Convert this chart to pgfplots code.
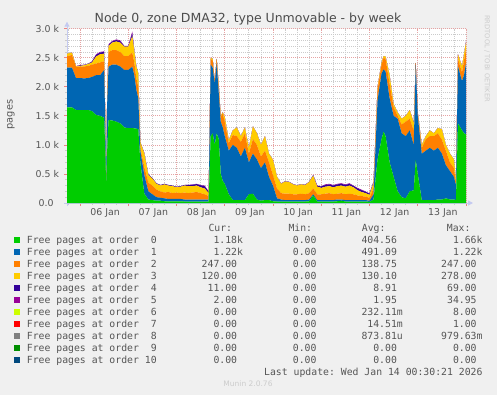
\documentclass[border=0pt]{standalone}
\usepackage{fontspec}
\setmainfont{DejaVu Sans}
\setmonofont{DejaVu Sans Mono}
\usepackage{pgfplots}
\pgfplotsset{compat=1.18}
\usepackage{pgfplotstable}
\usetikzlibrary{arrows.meta}
\definecolor{c0}{HTML}{00CC00}
\definecolor{c1}{HTML}{0066B3}
\definecolor{c2}{HTML}{FF8000}
\definecolor{c3}{HTML}{FFCC00}
\definecolor{c4}{HTML}{330099}
\definecolor{c5}{HTML}{990099}
\definecolor{c6}{HTML}{CCFF00}
\definecolor{c7}{HTML}{FF0000}
\definecolor{c8}{HTML}{808080}
\definecolor{c9}{HTML}{008F00}
\definecolor{c10}{HTML}{00487D}
\definecolor{bg}{HTML}{F0F0F0}
\definecolor{axc}{HTML}{C4CAF0}
\definecolor{mgrid}{HTML}{E6A3A3}
\definecolor{ngrid}{HTML}{CBCBCB}
\definecolor{txt}{HTML}{555555}

\pgfplotstableread{
h o0 o1 o2 o3 o4 o5
-6.47 1646 683 201 40 0 0
-4 1646 683 218 43 0 0
-2 1600 550 196 9 0 0
0 1600 550 196 14 10 5
2 1600 545 205 20 7 3
4 1600 550 210 30 5 0
6 1580 590 210 40 15 5
8 1514 686 200 120 30 10
10 1500 700 220 140 30 10
12 1468 822 150 130 30 10
12.5 1000 500 50 50 0 0
13 280 40 10 10 0 0
13.5 900 800 100 50 0 0
14.2 1428 918 254 100 20 10
16 1420 960 250 130 20 10
18 1400 980 250 150 25 10
20 1370 980 250 160 25 15
22 1300 990 240 160 10 5
24 1290 1000 240 160 10 5
26 1290 1056 244 280 50 30
27 1285 915 220 200 15 5
28 1280 670 200 200 10 0
29 1270 530 200 230 0 0
30 700 200 50 100 0 0
32 160 320 140 230 10 0
34 60 140 150 130 10 0
36 50 100 150 120 10 0
38 40 60 130 100 10 0
40 40 50 110 100 10 0
42 30 50 100 140 10 0
44 30 40 120 110 10 0
46 30 40 100 120 10 0
48 30 40 110 90 10 0
50 30 40 100 110 10 0
52 25 35 120 120 10 0
54 25 35 110 120 20 0
56 25 35 120 110 25 5
58 25 35 130 110 25 5
60 25 35 110 100 35 5
62 25 35 90 100 40 10
64 25 35 60 50 25 5
65 1150 1230 100 20 0 0
66 1200 1130 120 30 0 0
67 1000 1050 50 0 0 0
68 1200 1200 70 10 0 0
69 1100 800 100 50 0 0
70 500 900 80 20 0 0
71 380 920 240 20 0 0
72 330 820 250 80 0 0
74 150 750 130 50 0 0
76 50 950 170 80 0 0
78 50 900 200 150 0 0
80 50 750 250 100 0 0
82 50 900 250 100 0 0
84 150 550 150 100 0 0
86 160 690 250 220 0 0
88 60 690 250 200 0 0
90 40 560 200 200 0 0
92 50 650 200 250 0 0
94 50 400 250 150 0 0
96 30 270 180 260 0 0
98 25 55 170 200 0 0
100 25 35 110 160 5 0
102 25 25 110 210 5 0
104 25 25 110 200 5 0
106 25 25 100 170 5 0
108 25 25 100 150 5 0
110 25 25 110 160 5 0
112 25 25 100 160 5 0
114 30 30 110 190 5 0
116 130 20 100 220 10 0
118 25 25 100 130 15 5
120 25 25 100 110 25 5
122 25 25 110 120 30 10
124 25 25 120 120 30 10
126 25 25 100 120 30 10
128 30 30 100 130 30 10
130 40 20 110 130 30 10
132 25 25 100 130 30 10
134 25 25 110 140 30 10
136 25 25 100 120 25 5
138 25 25 80 90 30 10
140 25 25 70 70 30 10
142 25 25 60 60 25 5
144 20 20 50 50 20 5
146 60 90 110 90 15 5
148 750 1020 180 50 0 0
150 1100 1130 150 40 0 0
151 1227 1073 200 30 0 0
152 1150 1110 220 40 0 0
154 700 1100 250 150 0 0
156 450 1050 150 50 0 0
158 200 1250 50 60 0 0
160 100 1100 150 100 0 0
162 80 1070 250 100 0 0
164 200 1050 200 150 0 0
166 220 780 250 130 0 0
167 740 1635 25 10 0 0
168 500 1000 50 10 0 0
170 50 800 100 50 0 0
172 50 850 200 50 0 0
174 50 900 200 100 0 0
176 50 850 250 50 0 0
178 60 890 250 90 0 0
180 60 790 240 180 0 0
182 80 570 250 100 0 0
184 60 490 150 150 0 0
186 60 390 150 150 0 0
187 50 250 50 50 0 0
188 1370 980 130 80 0 0
190 1250 850 150 100 0 0
191 1200 1000 250 110 0 0
192 1180 1220 247 120 11 2
}\data

\newcommand\p{\hphantom{k}}
\newcommand\lrow[7]{%
  \fill[#2] (14,#1+0.3) rectangle +(6,6);
  \node[anchor=base west,inner sep=0pt] at (26.7,#1) {Free pages at order#3};
  \node[anchor=base east,inner sep=0pt] at (243.2,#1) {#4};
  \node[anchor=base east,inner sep=0pt] at (322.6,#1) {0.00\p};
  \node[anchor=base east,inner sep=0pt] at (403,#1) {#6};
  \node[anchor=base east,inner sep=0pt] at (482.7,#1) {#7};
}

\begin{document}
\begin{tikzpicture}[x=1bp,y=1bp]
\fill[bg] (0,0) rectangle (497,395);
\begin{axis}[
  at={(67bp,192bp)}, anchor=south west, scale only axis,
  width=399bp, height=174.3bp,
  xmin=-6.47, xmax=192, ymin=0, ymax=3000,
  axis lines=left,
  axis line style={draw=axc, line width=1bp, shorten >=-7bp, shorten <=-3bp,
     -{Triangle[length=5bp,width=5bp]}},
  axis background/.style={fill=white},
  stack plots=y,
  xtick={0,24,...,192}, xticklabels={},
  minor xtick={-6,0,...,192},
  extra x ticks={12,36,...,180},
  extra x tick labels={06 Jan,07 Jan,08 Jan,09 Jan,10 Jan,11 Jan,12 Jan,13 Jan},
  extra x tick style={grid=none, major tick length=0pt,
     xticklabel style={anchor=base, inner sep=0pt, yshift=-12.7bp, xshift=1bp}},
  ytick={0,500,...,3000},
  yticklabels={0.0\p,0.5 k,1.0 k,1.5 k,2.0 k,2.5 k,3.0 k},
  minor ytick={0,100,...,3000},
  grid=both,
  major grid style={mgrid, dash pattern=on 1bp off 1bp, line width=0.8bp},
  minor grid style={ngrid, dash pattern=on 1bp off 1bp, line width=0.8bp},
  tick align=outside, major tick length=3bp, minor tick length=2bp,
  major tick style={mgrid!80!red, line width=0.8bp},
  minor tick style={ngrid, line width=0.8bp},
  ticklabel style={font=\fontsize{9.4bp}{11bp}\selectfont, text=txt},
  yticklabel style={anchor=east, inner sep=0pt, xshift=-4.7bp},
]
\addplot[fill=c0, draw=none] table[x=h,y=o0]{\data} \closedcycle;
\addplot[fill=c1, draw=none] table[x=h,y=o1]{\data} \closedcycle;
\addplot[fill=c2, draw=none] table[x=h,y=o2]{\data} \closedcycle;
\addplot[fill=c3, draw=none] table[x=h,y=o3]{\data} \closedcycle;
\addplot[fill=c4, draw=none] table[x=h,y=o4]{\data} \closedcycle;
\addplot[fill=c5, draw=none] table[x=h,y=o5]{\data} \closedcycle;
\end{axis}
% title and labels
\node[anchor=base, inner sep=0pt, text=txt!90!black, font=\fontsize{12.5bp}{14bp}\selectfont] at (248,372.3) {Node 0, zone DMA32, type Unmovable - by week};
\node[rotate=90, inner sep=0pt, text=txt, font=\fontsize{9.8bp}{11bp}\selectfont] at (11,280.5) {pages};
\node[rotate=-90, anchor=west, inner sep=0pt, text=black!20, font=\fontsize{6.75bp}{8bp}\selectfont] at (487,380) {RRDTOOL / TOBI OETIKER};
% legend
\begin{scope}[font=\fontsize{9.8bp}{12bp}\selectfont\ttfamily, text=txt]
\node[anchor=base west,inner sep=0pt] at (208.3,163.3) {Cur:};
\node[anchor=base west,inner sep=0pt] at (288.3,163.3) {Min:};
\node[anchor=base west,inner sep=0pt] at (361.7,163.3) {Avg:};
\node[anchor=base west,inner sep=0pt] at (446.7,163.3) {Max:};
\lrow{151.7}{c0}{\ \ 0}{1.18k}{}{404.56\p}{1.66k}
\lrow{139.7}{c1}{\ \ 1}{1.22k}{}{491.09\p}{1.22k}
\lrow{127.7}{c2}{\ \ 2}{247.00\p}{}{138.75\p}{247.00\p}
\lrow{115.7}{c3}{\ \ 3}{120.00\p}{}{130.10\p}{278.00\p}
\lrow{103.7}{c4}{\ \ 4}{11.00\p}{}{8.91\p}{69.00\p}
\lrow{91.7}{c5}{\ \ 5}{2.00\p}{}{1.95\p}{34.95\p}
\lrow{79.7}{c6}{\ \ 6}{0.00\p}{}{232.11m}{8.00\p}
\lrow{67.7}{c7}{\ \ 7}{0.00\p}{}{14.51m}{1.00\p}
\lrow{55.7}{c8}{\ \ 8}{0.00\p}{}{873.81u}{979.63m}
\lrow{43.7}{c9}{\ \ 9}{0.00\p}{}{0.00\p}{0.00\p}
\lrow{31.7}{c10}{\ 10}{0.00\p}{}{0.00\p}{0.00\p}
\node[anchor=base east,inner sep=0pt] at (482.7,19.7) {Last update: Wed Jan 14 00:30:21 2026};
\end{scope}
\node[anchor=base, inner sep=0pt, text=black!20, font=\fontsize{7.5bp}{9bp}\selectfont] at (248,8.5) {Munin 2.0.76};
\end{tikzpicture}
\end{document}
